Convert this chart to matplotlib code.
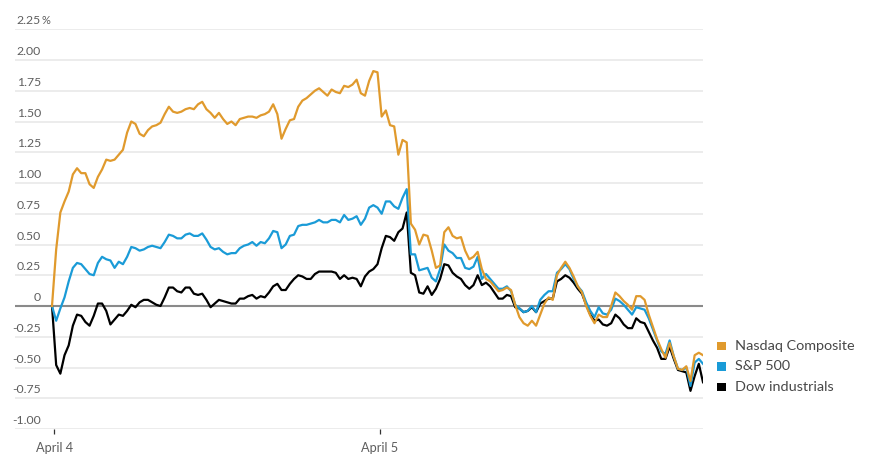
import numpy as np
import matplotlib
matplotlib.use("Agg")
import matplotlib.pyplot as plt
from matplotlib.transforms import offset_copy, blended_transform_factory
from matplotlib.patches import Rectangle

# ---------------- data (5-minute readings, % change) ----------------
nasdaq = [
    0, 0.46, 0.76, 0.85, 0.93, 1.07, 1.12, 1.08, 1.08, 0.99,
    0.96, 1.05, 1.11, 1.19, 1.18, 1.19, 1.23, 1.27, 1.41, 1.50,
    1.48, 1.40, 1.38, 1.43, 1.46, 1.47, 1.49, 1.56, 1.62, 1.58,
    1.57, 1.58, 1.60, 1.61, 1.60, 1.64, 1.66, 1.60, 1.57, 1.53,
    1.57, 1.52, 1.48, 1.50, 1.47, 1.52, 1.53, 1.54, 1.54, 1.53,
    1.55, 1.56, 1.58, 1.64, 1.56, 1.36, 1.44, 1.51, 1.52, 1.62,
    1.67, 1.69, 1.72, 1.75, 1.77, 1.74, 1.71, 1.76, 1.74, 1.73,
    1.79, 1.78, 1.80, 1.84, 1.73, 1.71, 1.83, 1.91, 1.90,
    1.54, 1.59, 1.47, 1.46, 1.23, 1.35, 1.33, 0.67, 0.62, 0.50,
    0.58, 0.57, 0.45, 0.31, 0.33, 0.60, 0.64, 0.57, 0.55, 0.56,
    0.45, 0.38, 0.40, 0.44, 0.30, 0.22, 0.20, 0.16, 0.12, 0.13,
    0.15, 0.13, 0.01, -0.09, -0.14, -0.16, -0.12, -0.16, -0.07, 0.02,
    0.07, 0.05, 0.25, 0.31, 0.36, 0.31, 0.24, 0.16, 0.11, 0.00,
    -0.08, -0.14, -0.07, -0.09, -0.09, 0.00, 0.11, 0.08, 0.04, 0.01,
    -0.03, 0.08, 0.08, 0.05, -0.07, -0.17, -0.27, -0.35, -0.42, -0.30,
    -0.41, -0.51, -0.52, -0.49, -0.61, -0.40, -0.38, -0.40,
]

sp500 = [
    0, -0.12, -0.02, 0.07, 0.20, 0.31, 0.35, 0.34, 0.30, 0.26,
    0.25, 0.35, 0.40, 0.38, 0.37, 0.31, 0.36, 0.34, 0.40, 0.48,
    0.47, 0.45, 0.46, 0.48, 0.49, 0.48, 0.47, 0.52, 0.58, 0.57,
    0.55, 0.55, 0.58, 0.59, 0.57, 0.57, 0.59, 0.54, 0.48, 0.46,
    0.47, 0.44, 0.42, 0.43, 0.43, 0.47, 0.49, 0.50, 0.52, 0.49,
    0.52, 0.51, 0.55, 0.61, 0.60, 0.47, 0.50, 0.57, 0.58, 0.65,
    0.66, 0.66, 0.67, 0.68, 0.70, 0.68, 0.68, 0.70, 0.70, 0.68,
    0.74, 0.70, 0.71, 0.73, 0.66, 0.71, 0.80, 0.82, 0.80,
    0.75, 0.85, 0.85, 0.81, 0.79, 0.88, 0.95, 0.42, 0.42, 0.29,
    0.30, 0.31, 0.23, 0.20, 0.30, 0.50, 0.45, 0.43, 0.39, 0.39,
    0.31, 0.30, 0.32, 0.40, 0.22, 0.26, 0.22, 0.18, 0.14, 0.14,
    0.16, 0.12, 0.01, -0.02, -0.05, -0.04, 0.00, -0.05, 0.05, 0.09,
    0.12, 0.12, 0.27, 0.30, 0.34, 0.30, 0.22, 0.16, 0.12, 0.03,
    -0.04, -0.09, -0.01, -0.06, -0.07, -0.03, 0.06, 0.04, 0.01, -0.03,
    -0.07, -0.01, -0.02, -0.03, -0.10, -0.19, -0.28, -0.37, -0.39, -0.28,
    -0.41, -0.51, -0.52, -0.50, -0.65, -0.46, -0.43, -0.47,
]

dow = [
    0, -0.48, -0.55, -0.40, -0.32, -0.16, -0.07, -0.08, -0.13, -0.16,
    -0.08, 0.02, 0.02, -0.04, -0.15, -0.11, -0.07, -0.08, -0.04, 0.01,
    -0.01, 0.03, 0.05, 0.05, 0.03, 0.01, 0.00, 0.07, 0.15, 0.15,
    0.12, 0.11, 0.15, 0.15, 0.10, 0.09, 0.10, 0.05, -0.01, 0.02,
    0.05, 0.04, 0.03, 0.02, 0.02, 0.06, 0.06, 0.08, 0.09, 0.06,
    0.08, 0.07, 0.11, 0.16, 0.18, 0.13, 0.13, 0.18, 0.22, 0.25,
    0.24, 0.22, 0.22, 0.26, 0.28, 0.28, 0.28, 0.28, 0.27, 0.22,
    0.25, 0.22, 0.23, 0.22, 0.16, 0.24, 0.28, 0.30, 0.34,
    0.47, 0.57, 0.56, 0.53, 0.60, 0.63, 0.76, 0.27, 0.25, 0.11,
    0.10, 0.16, 0.09, 0.14, 0.22, 0.34, 0.33, 0.27, 0.24, 0.22,
    0.17, 0.14, 0.17, 0.25, 0.17, 0.19, 0.16, 0.11, 0.06, 0.06,
    0.09, 0.08, -0.01, -0.02, -0.05, -0.04, -0.01, -0.05, 0.02, 0.04,
    0.06, 0.06, 0.20, 0.22, 0.25, 0.23, 0.19, 0.14, 0.10, 0.01,
    -0.07, -0.12, -0.11, -0.15, -0.16, -0.14, -0.07, -0.10, -0.15, -0.18,
    -0.18, -0.10, -0.13, -0.14, -0.21, -0.28, -0.34, -0.43, -0.43, -0.33,
    -0.43, -0.52, -0.53, -0.54, -0.69, -0.57, -0.47, -0.62,
]

series_names = ["Nasdaq Composite", "S&P 500", "Dow industrials"]
series_colors = ["#E09A2D", "#1A9BD7", "#000000"]
day_labels = ["April 4", "April 5"]
y_ticks = [2.25, 2.00, 1.75, 1.50, 1.25, 1.00, 0.75, 0.50, 0.25, 0, -0.25, -0.50, -0.75, -1.00]
y_tick_labels = ["2.25", "2.00", "1.75", "1.50", "1.25", "1.00", "0.75", "0.50",
                 "0.25", "0", "-0.25", "-0.50", "-0.75", "-1.00"]

# ---------------- figure ----------------
W, H = 871, 467
fig = plt.figure(figsize=(W / 100, H / 100), dpi=100)
font = "Lato"
label_col = "#5E5E5E"

ax_left, ax_right, ax_top, ax_bottom = 15, 703, 29.25, 429
ax = fig.add_axes([ax_left / W, 1 - ax_bottom / H, (ax_right - ax_left) / W, (ax_bottom - ax_top) / H])

x = np.arange(len(nasdaq))
n_last = len(nasdaq) - 1
step = (703 - 52) / n_last
ax.set_xlim(-(52 - ax_left) / step, n_last + (ax_right - 703) / step)
ax.set_ylim(-1.0, 2.25)

for s in ax.spines.values():
    s.set_visible(False)

# gridlines
for yv in y_ticks:
    if yv == 0:
        continue
    ax.axhline(yv, color="#EBEBEB", lw=1.3, zorder=1)
ax.axhline(0, color="#8A8A8A", lw=1.5, zorder=2)

# lines (Dow first, Nasdaq on top)
for data, col in [(dow, series_colors[2]), (sp500, series_colors[1]), (nasdaq, series_colors[0])]:
    ax.plot(x, data, color=col, lw=1.6, solid_joinstyle="round", zorder=3)

# y labels above gridlines, right aligned
ax.set_yticks([])
lab_x = (41 - ax_left) / (ax_right - ax_left)
btr = blended_transform_factory(ax.transAxes, ax.transData)
btr = offset_copy(btr, fig=fig, x=0, y=2.0, units="points")
for yv, lab in zip(y_ticks, y_tick_labels):
    ax.text(lab_x, yv, lab, transform=btr, ha="right", va="bottom",
            fontsize=8.8, color=label_col, family=font)
ax.text(lab_x, y_ticks[0], "%", transform=btr, ha="left", va="bottom",
        fontsize=8.0, color=label_col, family=font)

# x ticks: session starts
day_start = [0.5, 78.6]
ax.set_xticks(day_start)
ax.set_xticklabels(day_labels, fontsize=9.2, color=label_col, family=font)
ax.tick_params(axis="x", length=3.5, width=0.9, color="#333333", pad=6, direction="out")

# legend
leg_y = [346, 366.5, 387]
for name, col, yy in zip(series_names, series_colors, leg_y):
    fig.patches.append(Rectangle((717 / W, 1 - (yy + 4.3) / H), 8.5 / W, 8.5 / H,
                                 transform=fig.transFigure, facecolor=col, edgecolor="none"))
    fig.text(735 / W, 1 - yy / H, name, ha="left", va="center",
             fontsize=10.4, color="#474747", family=font)

fig.savefig("out.png", dpi=100)
